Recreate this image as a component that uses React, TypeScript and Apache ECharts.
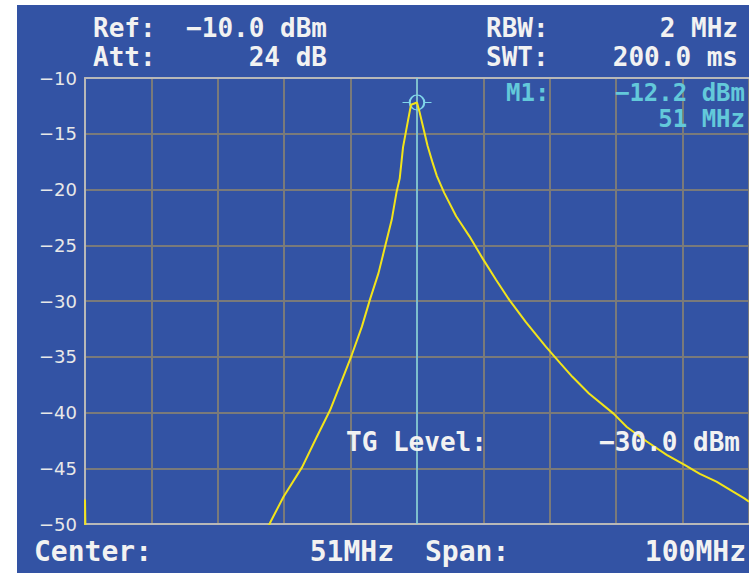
import React, { useEffect, useRef } from "react";
import * as echarts from "echarts";

// Sweep settings
const CENTER_MHZ = 51;
const SPAN_MHZ = 100;
const REF_LEVEL = -10;
const BOTTOM_LEVEL = -50;
const LEVEL_STEP = 5;

// Trace: frequency (MHz) and level (dBm)
const traceFreq = [
  1, 1.25, 28.0, 28.95, 30.9, 33.7, 35.9, 37.9, 39.7, 41.2, 42.7, 43.9, 45.2, 46.2, 47.2, 47.9,
  48.4, 48.9, 49.65, 50.1, 51, 51.4, 52.0, 52.6, 53.3, 54.0, 55.1, 56.9, 58.9, 60.9, 62.9, 64.9,
  67.4, 70.4, 72.6, 74.4, 76.9, 80.6, 82.6, 85.6, 88.6, 91.3, 93.6, 96.1, 98.6, 100.3, 101,
];
const traceLevel = [
  -47.8, -58, -51, -49.8, -47.55, -44.9, -42.2, -39.8, -37.1, -34.8, -32.3, -29.9, -27.5, -25.1, -22.7, -20.3,
  -19.0, -16.2, -13.8, -12.4, -12.2, -13.1, -14.6, -16.1, -17.5, -18.8, -20.3, -22.4, -24.2, -26.2, -28.1, -29.9,
  -31.9, -34.1, -35.6, -36.8, -38.3, -40.1, -41.3, -42.6, -43.8, -44.7, -45.5, -46.2, -47.1, -47.7, -48.0,
];

// Marker
const markerFreq = 51;
const markerLevel = -12.2;

// Header / footer texts
const refText = "−10.0 dBm";
const attText = "24 dB";
const rbwText = "2 MHz";
const swtText = "200.0 ms";
const tgText = "−30.0 dBm";
const centerText = "51MHz";
const spanText = "100MHz";

const BLUE = "#3353a4";
const WHITE = "#f2f2f2";
const CYAN = "#63c9da";
const MONO = '"DejaVu Sans Mono", "Liberation Mono", monospace';

function txt(text: string, x: number, y: number, align: string, size: number, fill: string) {
  return {
    type: "text",
    z: 100,
    silent: true,
    style: {
      text,
      x,
      y,
      align,
      verticalAlign: "middle",
      fill,
      fontFamily: MONO,
      fontWeight: "bold",
      fontSize: size,
    },
  };
}

export default function App() {
  const ref = useRef<HTMLDivElement>(null);

  useEffect(() => {
    if (!ref.current) return;
    const chart = echarts.init(ref.current, undefined, { renderer: "svg" });
    const half = SPAN_MHZ / 2;
    const data = traceFreq.map((f, i) => [f - CENTER_MHZ, traceLevel[i]]);

    const option: any = {
      animation: false,
      backgroundColor: BLUE,
      grid: { left: 85, top: 78, width: 668, height: 446, containLabel: false },
      xAxis: [
        {
          type: "value",
          min: -half,
          max: half,
          interval: SPAN_MHZ / 10,
          position: "bottom",
          axisLine: { show: true, lineStyle: { color: "#b8b8b8", width: 2 } },
          axisTick: { show: false },
          axisLabel: { show: false },
          splitLine: { show: true, lineStyle: { color: "#7a7a7a", width: 2 } },
        },
        {
          type: "value",
          min: -half,
          max: half,
          interval: SPAN_MHZ / 10,
          position: "top",
          axisLine: { show: true, onZero: false, lineStyle: { color: "#b8b8b8", width: 2 } },
          axisTick: { show: false },
          axisLabel: { show: false },
          splitLine: { show: false },
        },
      ],
      yAxis: {
        type: "value",
        min: BOTTOM_LEVEL,
        max: REF_LEVEL,
        interval: LEVEL_STEP,
        axisLine: { show: true, onZero: false, lineStyle: { color: "#b8b8b8", width: 2 } },
        axisTick: { show: false },
        axisLabel: {
          show: true,
          margin: 8,
          color: "#e8e8e8",
          fontFamily: '"DejaVu Sans", sans-serif',
          fontSize: 18,
          formatter: (v: number) => String(v).replace("-", "−"),
        },
        splitLine: { show: true, lineStyle: { color: "#7a7a7a", width: 2 } },
      },
      series: [
        {
          type: "line",
          data,
          showSymbol: false,
          clip: true,
          lineStyle: { color: "#f2e41a", width: 2 },
          z: 5,
          markLine: {
            silent: true,
            symbol: "none",
            label: { show: false },
            lineStyle: { color: "#80d6ea", width: 1.5, type: "solid" },
            data: [{ xAxis: markerFreq - CENTER_MHZ }],
          },
          markPoint: {
            silent: true,
            symbol: "path://M-14,0 L-7,0 M7,0 L14,0 M7,0 A7,7 0 1,1 -7,0 A7,7 0 1,1 7,0 Z",
            symbolSize: [29, 15],
            itemStyle: { color: "rgba(0,0,0,0)", borderColor: "#80d6ea", borderWidth: 1.5 },
            label: { show: false },
            data: [{ coord: [markerFreq - CENTER_MHZ, markerLevel] }],
          },
        },
      ],
      graphic: [
        { type: "rect", z: 100, silent: true, shape: { x: 0, y: 0, width: 749, height: 5 }, style: { fill: "#ffffff" } },
        { type: "rect", z: 100, silent: true, shape: { x: 0, y: 0, width: 17, height: 573 }, style: { fill: "#ffffff" } },
        txt("Ref:", 93, 28, "left", 26, WHITE),
        txt(refText, 327, 28, "right", 26, WHITE),
        txt("Att:", 93, 57, "left", 26, WHITE),
        txt(attText, 327, 57, "right", 26, WHITE),
        txt("RBW:", 486, 28, "left", 26, WHITE),
        txt(rbwText, 738, 28, "right", 26, WHITE),
        txt("SWT:", 486, 57, "left", 26, WHITE),
        txt(swtText, 738, 57, "right", 26, WHITE),
        txt("M1:", 506, 93, "left", 24, CYAN),
        txt("−12.2 dBm", 745, 93, "right", 24, CYAN),
        txt("51 MHz", 745, 119, "right", 24, CYAN),
        txt("TG Level:", 346, 442, "left", 26, WHITE),
        txt(tgText, 740, 442, "right", 26, WHITE),
        txt("Center:", 34, 551, "left", 28, WHITE),
        txt(centerText, 394, 551, "right", 28, WHITE),
        txt("Span:", 425, 551, "left", 28, WHITE),
        txt(spanText, 746, 551, "right", 28, WHITE),
      ],
    };
    chart.setOption(option);
    return () => chart.dispose();
  }, []);

  return (
    <div
      ref={ref}
      style={{ position: "absolute", left: 0, top: 0, width: 749, height: 573 }}
    />
  );
}
